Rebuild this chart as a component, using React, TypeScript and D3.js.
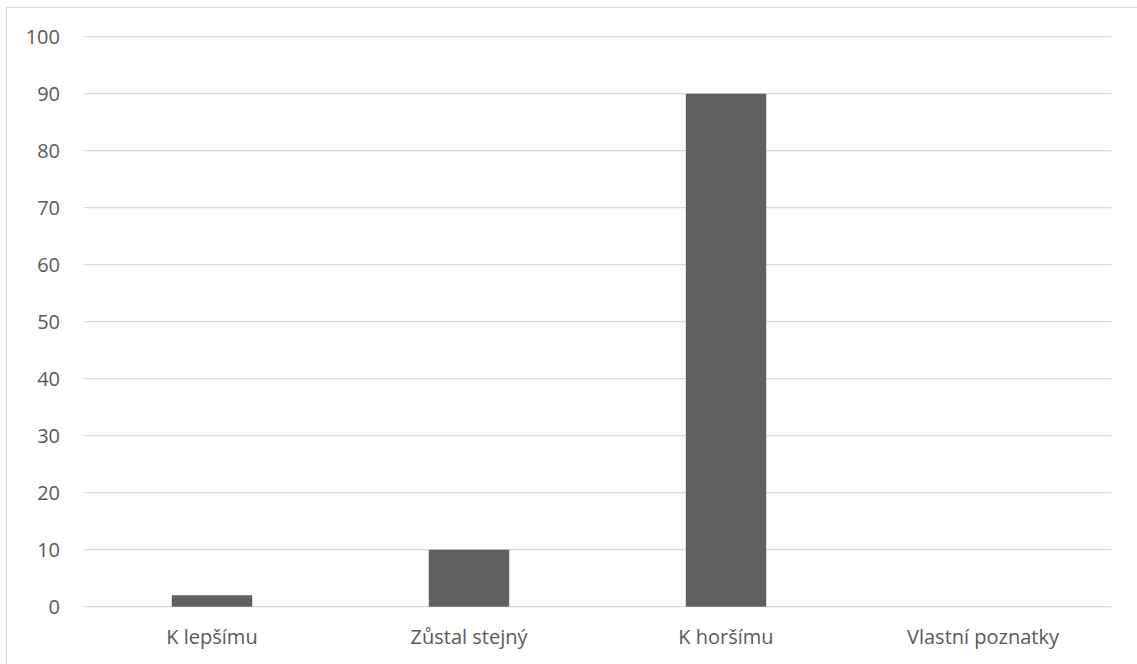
import React from "react";
import * as d3 from "d3";

const categories = ["K lepšímu", "Zůstal stejný", "K horšímu", "Vlastní poznatky"];
const values = [2, 10, 90, 0];
const yTicks = [0, 10, 20, 30, 40, 50, 60, 70, 80, 90, 100];

export default function App() {
  const W = 1137, H = 664;
  const left = 83.5, right = 1111.5, top = 36.7, bottom = 606.7;
  const x = d3.scaleBand<string>().domain(categories).range([left, right]).paddingInner(0.687).paddingOuter(0.3435);
  const y = d3.scaleLinear().domain([0, 100]).range([bottom, top]);
  const font = "'Open Sans', sans-serif";
  return (
    <svg width={W} height={H} style={{ position: "absolute", left: 0, top: 0, background: "#fff" }}>
      <line x1={6.5} x2={W} y1={7.5} y2={7.5} stroke="#d9d9d9" strokeWidth={1} />
      <line x1={6.5} x2={6.5} y1={7.5} y2={H} stroke="#d9d9d9" strokeWidth={1} />
      {yTicks.map((t) => (
        <g key={t}>
          <line x1={left} x2={right} y1={y(t)} y2={y(t)} stroke="#d9d9d9" strokeWidth={1.3} />
          <text x={60} y={y(t)} dy="0.36em" textAnchor="end" fontFamily={font} fontSize={20} fill="#595959">{t}</text>
        </g>
      ))}
      {categories.map((c, i) => (
        <g key={c}>
          {values[i] > 0 && (
            <rect x={x(c)} y={y(values[i])} width={x.bandwidth()} height={y(0) - y(values[i])} fill="#606060" />
          )}
          <text x={(x(c) ?? 0) + x.bandwidth() / 2} y={644} textAnchor="middle" fontFamily={font} fontSize={20} fill="#595959">{c}</text>
        </g>
      ))}
    </svg>
  );
}
